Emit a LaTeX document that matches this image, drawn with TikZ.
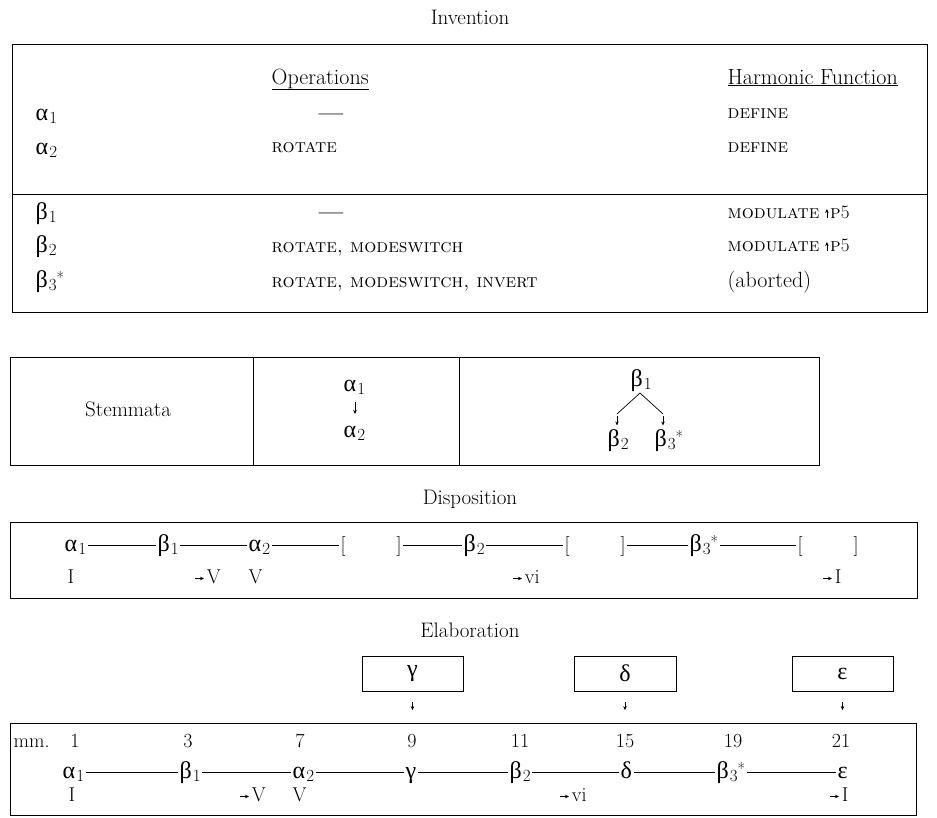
\RequirePackage{fix-cm}
\documentclass[tikz,border=0pt]{standalone}
\usepackage{fontspec}
\newfontfamily\grk{Liberation Serif}
\usetikzlibrary{arrows.meta,calc}
\newcommand\fs{\fontsize{20}{23}\selectfont}
\newcommand\fm{\fontsize{21}{24}\selectfont}
\newcommand\fl{\fontsize{22}{25}\selectfont}
\newcommand\fsc{\fontsize{19}{22}\selectfont}
\newcommand\gk[2]{{\grk\fontsize{24}{26}\selectfont #1}\kern1pt\raisebox{-0.4ex}{\fontsize{17}{17}\selectfont #2}}
\newcommand\gst{\raisebox{0.45ex}{\fontsize{16}{16}\selectfont *}}
\newcommand\gsym[1]{{\grk\fontsize{24}{26}\selectfont #1}}
\newcommand\rar{\tikz[baseline=0pt]\draw[line width=0.6pt,-{Stealth[length=4pt,width=3.5pt]}] (0pt,4.5pt)--(9pt,4.5pt);\kern2.5pt}
\newcommand\uar{\tikz[baseline=0pt]\draw[line width=0.6pt,-{Stealth[length=4pt,width=3.5pt]}] (0pt,0pt)--(0pt,9pt);\kern1.5pt}
\tikzset{
  txt/.style={inner sep=1.5pt, anchor=base west, font=\fs},
  ctxt/.style={inner sep=1.5pt, anchor=base, font=\fs},
  frame/.style={draw, line width=0.85pt},
  sarr/.style={line width=0.6pt, -{Stealth[length=4pt,width=3.5pt]}},
  link/.style={line width=0.7pt},
}
\begin{document}
\begin{tikzpicture}[x=1pt,y=-1pt]
\fill[white] (0,0) rectangle (937,817);
\useasboundingbox (0,0) rectangle (937,817);

% ---------------- Invention ----------------
\node[ctxt, font=\fm] (tinv) at (470,24) {Invention};
\draw[frame] (12,44) rectangle (927,312);
\draw[frame] (12,194) -- (927,194);
\node[txt, font=\fl] (hop) at (270,84) {\underline{Operations}};
\node[txt, font=\fl] (hhf) at (726,84) {\underline{Harmonic Function}};

\node[txt] (ia1) at (34,120) {\gk{α}{1}};
\node[txt] (ia2) at (34,154) {\gk{α}{2}};
\node[txt] (ib1) at (34,219) {\gk{β}{1}};
\node[txt] (ib2) at (34,252) {\gk{β}{2}};
\node[txt] (ib3) at (34,287) {\gk{β}{3}\gst};

\node[ctxt, font=\fl] (o1) at (331,120) {\textbf{\textemdash}};
\node[txt, font=\fsc] (o2) at (270,152) {\textsc{rotate}};
\node[ctxt, font=\fl] (o3) at (331,219) {\textbf{\textemdash}};
\node[txt, font=\fsc] (o4) at (270,252) {\textsc{rotate, modeswitch}};
\node[txt, font=\fsc] (o5) at (270,287) {\textsc{rotate, modeswitch, invert}};

\node[txt, font=\fsc] (h1) at (726,118) {\textsc{define}};
\node[txt, font=\fsc] (h2) at (726,152) {\textsc{define}};
\node[txt, font=\fsc] (h3) at (726,218) {\textsc{modulate} \uar\textsc{p}5};
\node[txt, font=\fsc] (h4) at (726,251) {\textsc{modulate} \uar\textsc{p}5};
\node[txt, font=\fl] (h5) at (726,287) {(aborted)};

% ---------------- Stemmata ----------------
\draw[frame] (10,357) rectangle (819,465);
\draw[frame] (253,357) -- (253,465);
\draw[frame] (459,357) -- (459,465);
\node[ctxt, font=\fm] (tstem) at (128,416) {Stemmata};
\node[txt] (sa1) at (342,391) {\gk{α}{1}};
\node[txt] (sa2) at (342,437) {\gk{α}{2}};
\coordinate (sx) at (355,402);
\draw[sarr, shorten >=10pt] (sx) -- (sx |- sa2.north);
\node[txt] (sb1) at (629,386) {\gk{β}{1}};
\node[txt] (sb2) at (606,446) {\gk{β}{2}};
\node[txt] (sb3) at (653,446) {\gk{β}{3}\gst};
\coordinate (kl) at (617,414);
\coordinate (kr) at (663,414);
\coordinate (kt) at (640,393);
\draw[link] (kt) -- (kl);
\draw[link] (kt) -- (kr);
\draw[sarr, shorten >=2pt] ([yshift=-2pt]kl) -- (kl |- sb2.north);
\draw[sarr, shorten >=2pt] ([yshift=-2pt]kr) -- (kr |- sb3.north);

% ---------------- Disposition ----------------
\node[ctxt, font=\fm] (tdisp) at (470,504) {Disposition};
\draw[frame] (10,522) rectangle (917,598);
\node[txt] (da1) at (63,551) {\gk{α}{1}};
\node[txt] (db1) at (156,551) {\gk{β}{1}};
\node[txt] (da2) at (247,551) {\gk{α}{2}};
\node[txt] (dl1) at (339,551) {[};
\node[txt] (dr1) at (395,551) {]};
\node[txt] (db2) at (462,551) {\gk{β}{2}};
\node[txt] (dl2) at (563,551) {[};
\node[txt] (dr2) at (619,551) {]};
\node[txt] (db3) at (688,551) {\gk{β}{3}\gst};
\node[txt] (dl3) at (796,551) {[};
\node[txt] (dr3) at (852,551) {]};
\foreach \a/\b in {da1/db1, db1/da2, da2/dl1, dr1/db2, db2/dl2, dr2/db3, db3/dl3}
  \draw[link] ([yshift=5.5pt]\a.base east) -- ([yshift=5.5pt]\b.base west);
\node[txt] (dk1) at (66,583) {I};
\node[txt] (dk2) at (193,583) {\rar V};
\node[txt] (dk3) at (247,583) {V};
\node[txt] (dk4) at (511,583) {\rar vi};
\node[txt] (dk5) at (821,583) {\rar I};

% ---------------- Elaboration ----------------
\node[ctxt, font=\fm] (telab) at (470,637) {Elaboration};
\node[frame, minimum width=101pt, minimum height=35pt] (bg) at (412.5,673.5) {\gsym{γ}};
\node[frame, minimum width=102pt, minimum height=35pt] (bd) at (625,673.5) {\gsym{δ}};
\node[frame, minimum width=101pt, minimum height=35pt] (be) at (842.5,673.5) {\gsym{ε}};
\draw[frame] (10,723) rectangle (916,815);

\node[txt] (mm) at (12,747) {mm.};
\node[ctxt] (n1) at (75,747) {1};
\node[ctxt] (n3) at (188,747) {3};
\node[ctxt] (n7) at (300,747) {7};
\node[ctxt] (n9) at (412,747) {9};
\node[ctxt] (n11) at (520,747) {11};
\node[ctxt] (n15) at (625,747) {15};
\node[ctxt] (n19) at (733,747) {19};
\node[ctxt] (n21) at (841,747) {21};

\node[txt] (ea1) at (61,778) {\gk{α}{1}};
\node[txt] (eb1) at (178,778) {\gk{β}{1}};
\node[txt] (ea2) at (291,778) {\gk{α}{2}};
\node[txt] (eg) at (404,778) {\gsym{γ}};
\node[txt] (eb2) at (508,778) {\gk{β}{2}};
\node[txt] (ed) at (619,778) {\gsym{δ}};
\node[txt] (eb3) at (715,778) {\gk{β}{3}\gst};
\node[txt] (ee) at (836,778) {\gsym{ε}};
\foreach \a/\b in {ea1/eb1, eb1/ea2, ea2/eg, eg/eb2, eb2/ed, ed/eb3, eb3/ee}
  \draw[link] ([yshift=5.5pt]\a.base east) -- ([yshift=5.5pt]\b.base west);

\node[txt] (ek1) at (67,801) {I};
\node[txt] (ek2) at (238,801) {\rar V};
\node[txt] (ek3) at (291,801) {V};
\node[txt] (ek4) at (558,801) {\rar vi};
\node[txt] (ek5) at (828,801) {\rar I};

\draw[sarr, shorten <=11pt] (bg.south) -- ([yshift=22pt]bg.south |- n9.north);
\draw[sarr, shorten <=11pt] (bd.south) -- ([yshift=22pt]bd.south |- n15.north);
\draw[sarr, shorten <=11pt] (be.south) -- ([yshift=22pt]be.south |- n21.north);
\end{tikzpicture}
\end{document}
